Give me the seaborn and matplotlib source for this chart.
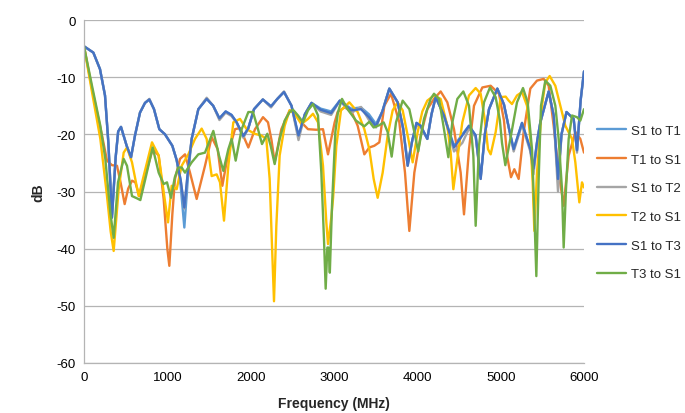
import numpy as np
import pandas as pd
import matplotlib; matplotlib.use("Agg")
import matplotlib.pyplot as plt
import seaborn as sns

# values (frequency in MHz, level in dB)
s1t3_f = [0, 112, 192, 252, 292, 336, 380, 410, 444, 512, 564, 612, 672, 732, 784, 840, 904, 972, 1060,
          1112, 1160, 1204, 1250, 1292, 1372, 1472, 1550, 1625, 1700, 1770, 1832, 1912, 1970, 2040, 2146,
          2244, 2320, 2400, 2490, 2574, 2650, 2730, 2840, 2966, 3070, 3204, 3324, 3420, 3504, 3580, 3664,
          3764, 3830, 3884, 3940, 3990, 4040, 4120, 4170, 4220, 4320, 4440, 4540, 4620, 4700, 4760, 4810,
          4860, 4960, 5040, 5100, 5156, 5256, 5356, 5394, 5440, 5476, 5576, 5636, 5688, 5730, 5790, 5876,
          5916, 5960, 6000]
s1t3_db = [-4.6, -5.7, -8.6, -13.2, -21.4, -34.6, -24.0, -19.5, -18.7, -22.0, -24.0, -20.2, -16.2, -14.5,
           -13.9, -15.6, -19.1, -20.0, -22.0, -24.5, -28.0, -32.8, -26.0, -20.8, -15.6, -13.8, -15.0, -17.2,
           -16.0, -16.6, -17.9, -20.3, -19.0, -15.6, -13.9, -15.1, -13.8, -12.6, -15.0, -20.2, -16.5, -14.5,
           -15.7, -16.3, -14.1, -15.8, -15.6, -17.0, -18.6, -16.0, -12.0, -14.4, -19.0, -25.5, -21.0, -18.0,
           -18.5, -20.8, -16.5, -13.5, -16.7, -22.3, -20.2, -18.5, -20.2, -27.8, -20.0, -15.6, -12.0, -14.8,
           -19.0, -22.6, -18.0, -22.6, -26.0, -21.0, -17.9, -12.5, -16.7, -27.8, -20.0, -16.1, -17.3, -22.8,
           -14.0, -9.0]
s1t1_db = [-4.6, -5.7, -8.6, -13.2, -21.4, -34.0, -24.0, -19.5, -18.7, -22.0, -24.0, -20.2, -16.2, -14.5,
           -13.9, -15.6, -19.1, -20.0, -22.0, -24.5, -29.0, -36.3, -27.0, -20.8, -15.6, -13.8, -15.0, -17.2,
           -16.0, -16.6, -17.9, -20.3, -19.0, -15.6, -13.9, -15.1, -13.8, -12.6, -15.0, -20.4, -16.5, -14.5,
           -15.5, -16.0, -14.1, -15.5, -15.3, -16.5, -18.2, -16.0, -12.0, -14.4, -19.0, -25.0, -21.0, -18.0,
           -18.5, -20.8, -16.5, -13.5, -16.7, -22.0, -20.0, -18.5, -20.2, -27.5, -20.0, -15.6, -12.0, -14.8,
           -19.0, -22.6, -18.0, -22.6, -26.0, -21.0, -17.9, -12.5, -16.7, -28.0, -20.0, -16.1, -17.3, -22.8,
           -14.0, -9.0]
s1t2_db = [-4.6, -5.7, -8.6, -13.2, -21.4, -34.4, -24.0, -19.5, -18.7, -22.0, -24.2, -20.2, -16.2, -14.5,
           -13.8, -15.6, -19.1, -20.0, -22.0, -24.5, -28.0, -33.0, -26.0, -20.8, -15.6, -13.6, -15.0, -17.5,
           -16.2, -16.8, -18.0, -20.6, -19.0, -15.6, -13.9, -15.3, -13.8, -12.5, -15.0, -21.0, -16.5, -14.5,
           -16.0, -16.6, -14.1, -16.3, -15.2, -17.5, -18.8, -16.0, -12.0, -14.4, -19.0, -25.5, -21.0, -18.4,
           -18.8, -20.8, -16.5, -13.5, -16.7, -23.0, -21.5, -19.0, -20.5, -27.8, -20.0, -15.6, -12.0, -14.8,
           -19.0, -23.0, -18.3, -23.0, -27.0, -21.0, -17.9, -12.5, -16.7, -30.0, -20.0, -16.1, -17.3, -23.2,
           -14.0, -9.0]

t1s1_f = [0, 96, 216, 276, 336, 396, 440, 488, 530, 576, 616, 664, 756, 824, 896, 956, 1000, 1024, 1060,
          1092, 1152, 1212, 1272, 1352, 1452, 1532, 1604, 1660, 1732, 1812, 1872, 1972, 2052, 2148, 2208,
          2250, 2288, 2368, 2468, 2528, 2608, 2688, 2788, 2868, 2928, 3008, 3044, 3124, 3204, 3284, 3364,
          3424, 3484, 3544, 3604, 3684, 3784, 3852, 3904, 3964, 4040, 4120, 4200, 4280, 4360, 4440, 4520,
          4560, 4620, 4680, 4780, 4880, 4980, 5040, 5076, 5124, 5164, 5216, 5276, 5356, 5436, 5516, 5576,
          5636, 5696, 5756, 5816, 5896, 5956, 6000]
t1s1_db = [-4.6, -12.0, -20.2, -24.6, -25.4, -25.5, -28.5, -32.2, -29.5, -28.1, -28.4, -30.8, -26.1, -22.6,
           -23.7, -31.3, -40.0, -43.0, -34.0, -27.8, -24.3, -23.5, -26.7, -31.3, -25.5, -20.5, -22.6, -29.0,
           -23.2, -19.1, -18.9, -22.3, -19.1, -17.0, -17.9, -21.0, -24.9, -19.1, -15.8, -16.1, -17.9, -19.1,
           -19.2, -19.1, -23.5, -17.9, -16.1, -15.3, -15.8, -18.5, -23.5, -22.3, -22.0, -21.4, -15.0, -12.9,
           -17.9, -26.7, -36.9, -26.7, -20.2, -15.6, -13.8, -12.5, -14.4, -19.1, -26.7, -34.0, -22.6, -15.0,
           -11.8, -11.5, -12.9, -17.6, -23.7, -27.5, -26.1, -27.8, -19.6, -12.0, -10.6, -10.3, -11.5, -18.5,
           -26.7, -32.5, -23.7, -19.6, -20.8, -23.2]

t2s1_f = [0, 96, 196, 276, 320, 356, 416, 476, 516, 576, 656, 736, 816, 896, 968, 1008, 1052, 1112, 1172,
          1252, 1332, 1412, 1472, 1532, 1592, 1632, 1680, 1732, 1792, 1872, 1952, 2048, 2128, 2188, 2228,
          2256, 2280, 2308, 2348, 2408, 2468, 2528, 2608, 2688, 2748, 2808, 2868, 2908, 2928, 2968, 2990,
          3028, 3084, 3184, 3284, 3364, 3424, 3476, 3524, 3584, 3644, 3704, 3764, 3824, 3892, 3944, 4004,
          4060, 4120, 4200, 4280, 4360, 4400, 4432, 4480, 4540, 4620, 4700, 4760, 4808, 4848, 4880, 4940,
          5000, 5060, 5096, 5136, 5196, 5256, 5316, 5356, 5384, 5404, 5436, 5496, 5536, 5588, 5656, 5716,
          5776, 5856, 5896, 5924, 5944, 5976, 6000]
t2s1_db = [-4.6, -12.6, -20.8, -30.8, -37.0, -40.4, -29.6, -23.2, -22.3, -24.9, -30.8, -26.1, -21.4, -23.7,
           -31.3, -35.4, -29.0, -29.6, -25.5, -23.5, -20.8, -19.0, -20.8, -27.3, -27.0, -28.4, -35.1, -25.5,
           -17.9, -17.3, -19.1, -19.9, -20.2, -20.8, -27.8, -39.5, -49.2, -36.0, -23.7, -18.5, -15.8, -16.4,
           -18.2, -17.3, -16.4, -17.9, -25.5, -35.4, -39.2, -34.5, -31.0, -22.0, -15.8, -14.4, -16.1, -19.1,
           -22.6, -27.8, -31.1, -26.7, -20.2, -15.8, -14.4, -15.8, -20.8, -24.9, -19.6, -16.0, -14.1, -13.2,
           -13.8, -18.5, -23.2, -29.6, -24.3, -17.9, -13.2, -11.9, -12.9, -17.3, -22.6, -23.5, -19.6, -13.5,
           -13.4, -14.1, -14.7, -13.2, -12.6, -15.0, -20.8, -28.4, -36.9, -26.7, -15.0, -10.9, -9.8, -11.5,
           -15.0, -18.5, -20.8, -24.9, -29.0, -31.9, -28.4, -29.3]

t3s1_f = [0, 96, 196, 256, 316, 356, 408, 476, 516, 576, 636, 676, 736, 824, 896, 956, 996, 1044, 1090,
          1132, 1172, 1212, 1292, 1372, 1452, 1552, 1620, 1672, 1732, 1772, 1820, 1892, 1972, 2028, 2088,
          2136, 2200, 2240, 2288, 2348, 2408, 2468, 2508, 2568, 2628, 2688, 2748, 2808, 2848, 2880, 2900,
          2920, 2934, 2950, 2976, 3016, 3048, 3096, 3164, 3264, 3364, 3424, 3476, 3544, 3596, 3644, 3692,
          3744, 3824, 3904, 3964, 4010, 4080, 4160, 4200, 4260, 4320, 4372, 4420, 4480, 4552, 4620, 4672,
          4700, 4740, 4800, 4872, 4940, 4990, 5016, 5056, 5116, 5196, 5268, 5324, 5376, 5404, 5428, 5456,
          5484, 5536, 5596, 5656, 5696, 5736, 5756, 5784, 5816, 5856, 5916, 5956, 6000]
t3s1_db = [-4.6, -11.5, -18.5, -24.3, -33.7, -38.1, -28.4, -24.3, -25.5, -30.8, -31.2, -31.5, -27.8, -22.3,
           -26.7, -28.7, -28.4, -31.1, -27.5, -25.8, -25.8, -26.7, -24.9, -23.5, -23.2, -19.4, -23.7, -26.4,
           -22.6, -20.8, -24.6, -19.1, -16.1, -16.1, -19.1, -21.7, -19.9, -22.0, -25.2, -20.8, -17.6, -16.1,
           -15.7, -16.7, -17.9, -15.8, -14.7, -16.7, -26.7, -38.4, -47.0, -39.8, -39.8, -44.2, -32.5, -19.6,
           -16.1, -13.8, -15.6, -17.6, -18.6, -17.8, -18.8, -18.4, -17.9, -19.6, -23.9, -17.9, -14.1, -15.6,
           -19.6, -23.0, -17.3, -13.8, -12.9, -13.8, -19.1, -24.0, -17.9, -13.8, -12.5, -15.0, -23.7, -36.0,
           -22.0, -14.4, -11.8, -13.5, -17.5, -21.5, -25.4, -20.8, -14.4, -11.9, -14.4, -22.6, -33.7, -44.8,
           -27.8, -15.0, -10.6, -11.5, -15.0, -20.8, -29.6, -39.8, -29.6, -20.8, -16.7, -17.0, -17.6, -15.6]

names = ["S1 to T1", "T1 to S1", "S1 to T2", "T2 to S1", "S1 to T3", "T3 to S1"]
colors = ["#5B9BD5", "#ED7D31", "#A5A5A5", "#FFC000", "#4472C4", "#70AD47"]
series = [(s1t3_f, s1t1_db), (t1s1_f, t1s1_db), (s1t3_f, s1t2_db),
          (t2s1_f, t2s1_db), (s1t3_f, s1t3_db), (t3s1_f, t3s1_db)]

df = pd.concat([pd.DataFrame({"Frequency (MHz)": f, "dB": v, "series": n})
                for n, (f, v) in zip(names, series)], ignore_index=True)

sns.set_style("white")
plt.rcParams["font.family"] = ["Liberation Sans", "DejaVu Sans"]
plt.rcParams["axes.unicode_minus"] = False

fig = plt.figure(figsize=(6.85, 4.14), dpi=100)
ax = fig.add_axes([84/685, 1-364/414, 500/685, 343/414])
sns.lineplot(data=df, x="Frequency (MHz)", y="dB", hue="series", hue_order=names,
             palette=colors, linewidth=1.7, ax=ax, estimator=None, sort=True)

ax.set_xlim(0, 6000); ax.set_ylim(-60, 0)
ax.set_xticks(np.arange(0, 6001, 1000)); ax.set_yticks(np.arange(-60, 1, 10))
ax.yaxis.grid(True, color="#B4B4B4", linewidth=0.9); ax.xaxis.grid(False)
ax.set_axisbelow(True)
for s in ["top", "right"]: ax.spines[s].set_visible(False)
for s in ["left", "bottom"]:
    ax.spines[s].set_color("#B4B4B4"); ax.spines[s].set_linewidth(0.9)
ax.tick_params(axis="both", direction="out", length=4, width=0.9, color="#B4B4B4",
               labelsize=9.5, labelcolor="black", pad=2)
ax.set_xlabel("Frequency (MHz)", fontsize=10, fontweight="bold", labelpad=9)
ax.set_ylabel("dB", fontsize=10, fontweight="bold", labelpad=8)

ax.legend(loc="center left", bbox_to_anchor=(597/685, 1-203.5/414), bbox_transform=fig.transFigure,
          frameon=False, fontsize=9.5, handlelength=2.2, handletextpad=0.35, labelspacing=1.25,
          borderaxespad=0, borderpad=0)

fig.savefig("out.png", dpi=100, facecolor="white")
